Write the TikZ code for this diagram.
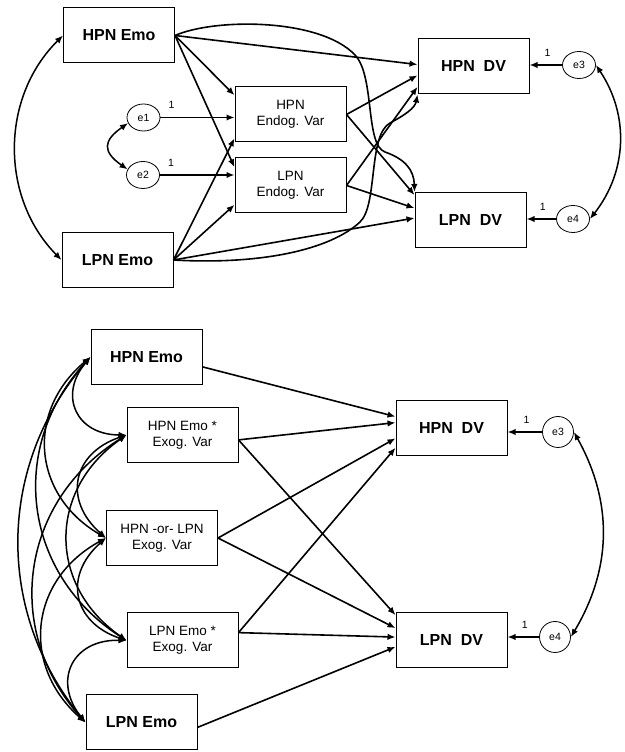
\documentclass[tikz,border=0pt]{standalone}
\usepackage{fontspec}
\setmainfont{Liberation Sans}
\usetikzlibrary{shapes.geometric, arrows.meta}
\tikzset{
    var/.style      = {draw, rectangle, minimum width=111pt, minimum height=55pt, inner sep=0pt, line width=1pt, align=center, font=\fontsize{16}{18}\selectfont\bfseries},
    smallvar/.style = {var, font=\fontsize{13.5}{16}\selectfont},
    err/.style      = {draw, ellipse, minimum width=33pt, minimum height=27pt, inner sep=0pt, line width=0.8pt, font=\fontsize{10.5}{12}\selectfont},
    errc/.style     = {draw, circle, minimum size=31pt, inner sep=0pt, line width=0.8pt, font=\fontsize{10.5}{12}\selectfont},
    reg/.style      = {-{Latex[length=8pt,width=6.5pt]}, line width=1.6pt},
    cov/.style      = {{Latex[length=8pt,width=6.5pt]}-{Latex[length=8pt,width=6.5pt]}, line width=1.5pt},
    one/.style      = {font=\fontsize{10.5}{12}\selectfont, inner sep=0pt, above=8pt},
}

\begin{document}
\begin{tikzpicture}[x=1pt, y=1pt]
  \useasboundingbox (0,0) rectangle (624,752);
  % top model
  \node [var] (hemo1) at (119,716.5) {HPN Emo};
  \node [var] (lemo1) at (117.5,492) {LPN Emo};
  \node [smallvar] (hend) at (290.5,637.5) {HPN\\Endog. Var};
  \node [smallvar] (lend) at (290.5,566.5) {LPN\\Endog. Var};
  \node [var] (hdv1) at (473.5,685.5) {HPN~~DV};
  \node [var] (ldv1) at (470.5,532) {LPN~~DV};
  \node [err] (e1) at (143.5,634.5) {e1};
  \node [err] (e2) at (143,577) {e2};
  \node [err] (e3) at (579,687) {e3};
  \node [err] (e4) at (573,533) {e4};
  \draw [reg] (hemo1.east) -- (hdv1.178);
  \draw [reg] (hemo1.east) -- (hend.161);
  \draw [reg] (hemo1.east) -- (lend.162);
  \draw [reg] (hemo1.east) .. controls (215,734) and (320,734) .. (355,697) .. controls (375,676) and (365,607) .. (385,600) .. controls (405,593) and (414,582) .. (ldv1.north west);
  \draw [reg] (lemo1.east) -- (hend.203);
  \draw [reg] (lemo1.east) -- (lend.199);
  \draw [reg] (lemo1.east) -- (ldv1.178);
  \draw [reg] (lemo1.east) .. controls (260,487) and (330,502) .. (360,530) .. controls (378,547) and (368,617) .. (390,629) .. controls (405,637) and (415,644) .. (hdv1.south west);
  \draw [reg] (hend.east) -- (hdv1.189);
  \draw [reg] (hend.east) -- (ldv1.156);
  \draw [reg] (lend.east) -- (hdv1.200);
  \draw [reg] (lend.east) -- (ldv1.168);
  \draw [reg] (e1) -- (e1 -| hend.west) node [one, pos=0.15] {1};
  \draw [reg] (e2) -- (e2 -| lend.west) node [one, pos=0.15] {1};
  \draw [reg] (e3) -- (e3 -| hdv1.east) node [one, pos=0.45] {1};
  \draw [reg] (e4) -- (e4 -| ldv1.east) node [one, pos=0.45] {1};
  \draw [cov] (hemo1.west) to [bend right=45] (lemo1.west);
  \draw [cov] (e1.200) to [out=215, in=145, looseness=1.7] (e2.160);
  \draw [cov] (e3.east) to [bend left=36] (e4.east);
  % bottom model
  \node [var] (hemo2) at (146.5,395) {HPN Emo};
  \node [smallvar] (hxe) at (182.5,317) {HPN Emo *\\Exog. Var};
  \node [smallvar] (hol) at (162,214) {HPN -or- LPN\\Exog. Var};
  \node [smallvar] (lxe) at (182.5,111.5) {LPN Emo *\\Exog. Var};
  \node [var] (lemo2) at (141.5,29.5) {LPN Emo};
  \node [var] (hdv2) at (451.5,323.5) {HPN~~DV};
  \node [var] (ldv2) at (451.5,112) {LPN~~DV};
  \node [errc] (e3b) at (558,320) {e3};
  \node [errc] (e4b) at (555,115) {e4};
  \draw [reg] (hemo2.350) -- (hdv2.168);
  \draw [reg] (hxe.355) -- (hdv2.174);
  \draw [reg] (hol.east) -- (hdv2.190);
  \draw [reg] (lxe.8) -- (hdv2.199);
  \draw [reg] (hxe.355) -- (ldv2.156);
  \draw [reg] (hol.east) -- (ldv2.168);
  \draw [reg] (lxe.8) -- (ldv2.177);
  \draw [reg] (lemo2.355) -- (ldv2.187);
  \draw [reg] (e3b) -- (e3b -| hdv2.east) node [one, pos=0.45] {1};
  \draw [reg] (e4b) -- (e4b -| ldv2.east) node [one, pos=0.45] {1};
  \draw [cov] (hemo2.west) to [bend right=65, looseness=1.5] (hxe.west);
  \draw [cov] (hxe.west) to [bend right=60, looseness=1.4] (hol.west);
  \draw [cov] (hol.west) to [bend right=60, looseness=1.4] (lxe.west);
  \draw [cov] (lxe.west) to [bend right=65, looseness=1.5] (lemo2.west);
  \draw [cov] (hemo2.west) to [bend right=55, looseness=1.2] (hol.west);
  \draw [cov] (hxe.west) to [bend right=55, looseness=1.2] (lxe.west);
  \draw [cov] (hol.west) to [bend right=55, looseness=1.2] (lemo2.west);
  \draw [cov] (hemo2.west) to [bend right=50, looseness=1.1] (lxe.west);
  \draw [cov] (hxe.west) to [bend right=50, looseness=1.1] (lemo2.west);
  \draw [cov] (hemo2.west) to [bend right=40] (lemo2.west);
  \draw [cov] (e3b.east) to [bend left=30] (e4b.east);
\end{tikzpicture}
\end{document}
